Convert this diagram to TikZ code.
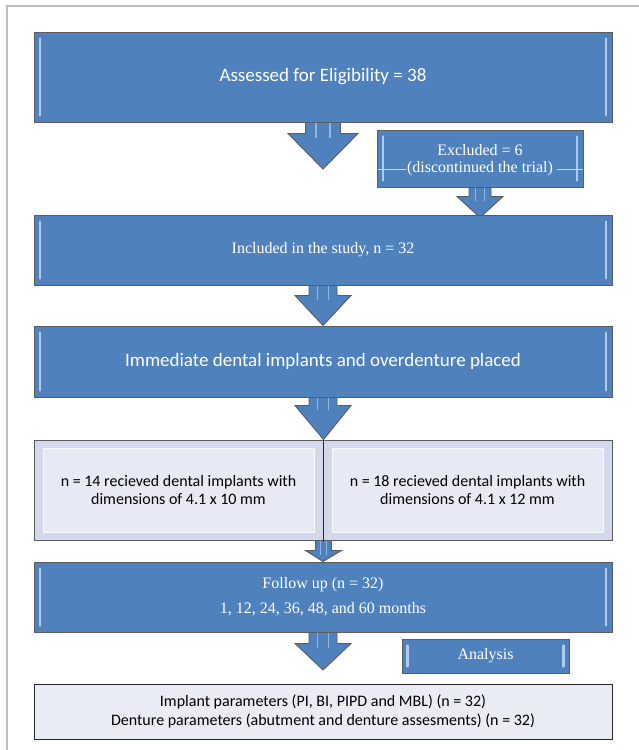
\documentclass[tikz,border=0pt]{standalone}
\usepackage{fontspec}
\setmainfont{Liberation Serif}
\newfontfamily\calib{Carlito}
\usetikzlibrary{calc,backgrounds}
\definecolor{boxblue}{HTML}{4F81BD}
\definecolor{edgegray}{HTML}{5A5C60}
\definecolor{hilite}{HTML}{AECBEE}
\definecolor{paleA}{HTML}{D3D9EA}
\definecolor{paleB}{HTML}{E7EAF4}
\definecolor{framegray}{HTML}{BDBDBD}
\definecolor{bottomfill}{HTML}{E9EBF5}
\tikzset{
  bluebox/.style={draw=edgegray, line width=1pt, fill=boxblue, text=white, align=center, inner sep=0pt},
  palebox/.style={draw=edgegray, line width=1pt, fill=paleA, text=black, align=center, inner sep=0pt},
  endbox/.style={draw=black!85, line width=1pt, fill=bottomfill, text=black, align=center, inner sep=0pt},
  blockarrow/.style={draw=edgegray, line width=0.9pt, fill=boxblue, line join=miter},
  barlight/.style={hilite, line width=2.4pt, line cap=round},
  shaftlight/.style={hilite!70!boxblue, line width=1.5pt},
  faintline/.style={hilite!70!white, line width=0.5pt},
  sansbig/.style={font=\calib\fontsize{19}{23}\selectfont},
  sansmid/.style={font=\calib\fontsize{16}{18.5}\selectfont},
  serifmid/.style={font=\fontsize{16}{17}\selectfont},
  serifwide/.style={font=\fontsize{16}{25}\selectfont}
}
% block arrow: #1 start point, #2 tip point, #3 shaft half width, #4 head half width, #5 shaft length
\newcommand\blockarr[5]{%
  \draw[blockarrow] let \p1=(#1), \p2=(#2) in
    (\x1-#3pt,\y1+2pt) -- (\x1-#3pt,\y1-#5pt) -- (\x1-#4pt,\y1-#5pt) -- (\x2,\y2)
    -- (\x1+#4pt,\y1-#5pt) -- (\x1+#3pt,\y1-#5pt) -- (\x1+#3pt,\y1+2pt) -- cycle;
  \draw[shaftlight] let \p1=(#1), \p2=(#2) in
    (\x1-0.4*#3pt,\y1) -- (\x1-0.4*#3pt,\y1-#5pt-4pt)
    (\x1+0.4*#3pt,\y1) -- (\x1+0.4*#3pt,\y1-#5pt-4pt);
}
% vertical bevel highlights in a blue box
\newcommand\bevel[2]{%
  \draw[barlight] ($(#1.north west)+(#2,7)$) -- ($(#1.south west)+(#2,-7)$);
  \draw[barlight] ($(#1.north east)+(-#2,7)$) -- ($(#1.south east)+(-#2,-7)$);
}
% inner lighter panel in a pale box
\newcommand\panel[1]{%
  \draw[white!70!paleB, line width=1pt, fill=paleB] ($(#1.north west)+(10,9)$) rectangle ($(#1.south east)+(-9,-8)$);
}
\begin{document}
\begin{tikzpicture}[x=1pt,y=-1pt]
\useasboundingbox (0,0) rectangle (639,750);
\draw[framegray, line width=1.2pt] (7,750) -- (7,6) -- (639,6);

% boxes
\node[bluebox, sansbig, minimum width=578pt, minimum height=90pt] (b1) at (323,77)
  {Assessed for Eligibility = 38};
\bevel{b1}{6.5}

\node[bluebox, minimum width=206pt, minimum height=57pt] (excl) at (480,158.5) {};
\bevel{excl}{6.5}
\draw[faintline] ($(excl.west)+(1,10.5)$) -- ($(excl.west)+(29,10.5)$);
\draw[faintline] ($(excl.east)+(-27,10.5)$) -- ($(excl.east)+(-1,10.5)$);
\node[serifmid, text=white, align=center, inner sep=0pt] (excltxt) at ($(excl.center)+(0,2)$)
  {Excluded = 6\\(discontinued the trial)};

\node[bluebox, serifmid, minimum width=578pt, minimum height=70pt] (b3) at (323,250)
  {Included in the study, n = 32};
\bevel{b3}{6.5}

\node[bluebox, sansbig, minimum width=578pt, minimum height=71pt] (b4) at (323,361.5)
  {Immediate dental implants and overdenture placed};
\bevel{b4}{6.5}

\node[palebox, minimum width=289pt, minimum height=100pt] (b5l) at (178.5,490) {};
\node[palebox, minimum width=289pt, minimum height=100pt] (b5r) at (467.5,490) {};
\panel{b5l}
\panel{b5r}
\draw[black!85, line width=1pt] (b5l.north east) -- (b5l.south east);
\node[sansmid, align=center, inner sep=0pt] (t5l) at (b5l.center)
  {n = 14 recieved dental implants with\\dimensions of 4.1 x 10 mm};
\node[sansmid, align=center, inner sep=0pt] (t5r) at (b5r.center)
  {n = 18 recieved dental implants with\\dimensions of 4.1 x 12 mm};

\node[bluebox, serifwide, minimum width=578pt, minimum height=70pt] (b6) at (323,597)
  {Follow up (n = 32)\\1, 12, 24, 36, 48, and 60 months};
\bevel{b6}{6.5}

\node[bluebox, serifmid, minimum width=167pt, minimum height=34pt] (ana) at (485.5,656)
  {Analysis};
\bevel{ana}{6}

\node[endbox, font=\calib\fontsize{16}{19}\selectfont, minimum width=578pt, minimum height=55pt] (b7) at (323,711.5)
  {Implant parameters (PI, BI, PIPD and MBL) (n = 32)\\Denture parameters (abutment and denture assesments) (n = 32)};

% connectors
\coordinate (tip1) at (323,169);
\coordinate (tip2) at ($(excl.south |- b3.north)+(0,3)$);
\coordinate (tip6) at (323,670);
\begin{scope}[on background layer]
  \fill[white] (0,0) rectangle (639,750);
  \blockarr{b1.south}{tip1}{17.5}{35}{11}
  \blockarr{excl.south}{tip2}{11}{23}{9}
  \blockarr{b3.south}{b4.north}{14}{28}{10}
  \blockarr{b4.south}{b5l.south east |- b5l.north}{14}{28}{8}
  \blockarr{b5l.south east}{b6.north}{8}{18}{10}
  \blockarr{b6.south}{tip6}{14}{28}{11}
\end{scope}
\end{tikzpicture}
\end{document}
